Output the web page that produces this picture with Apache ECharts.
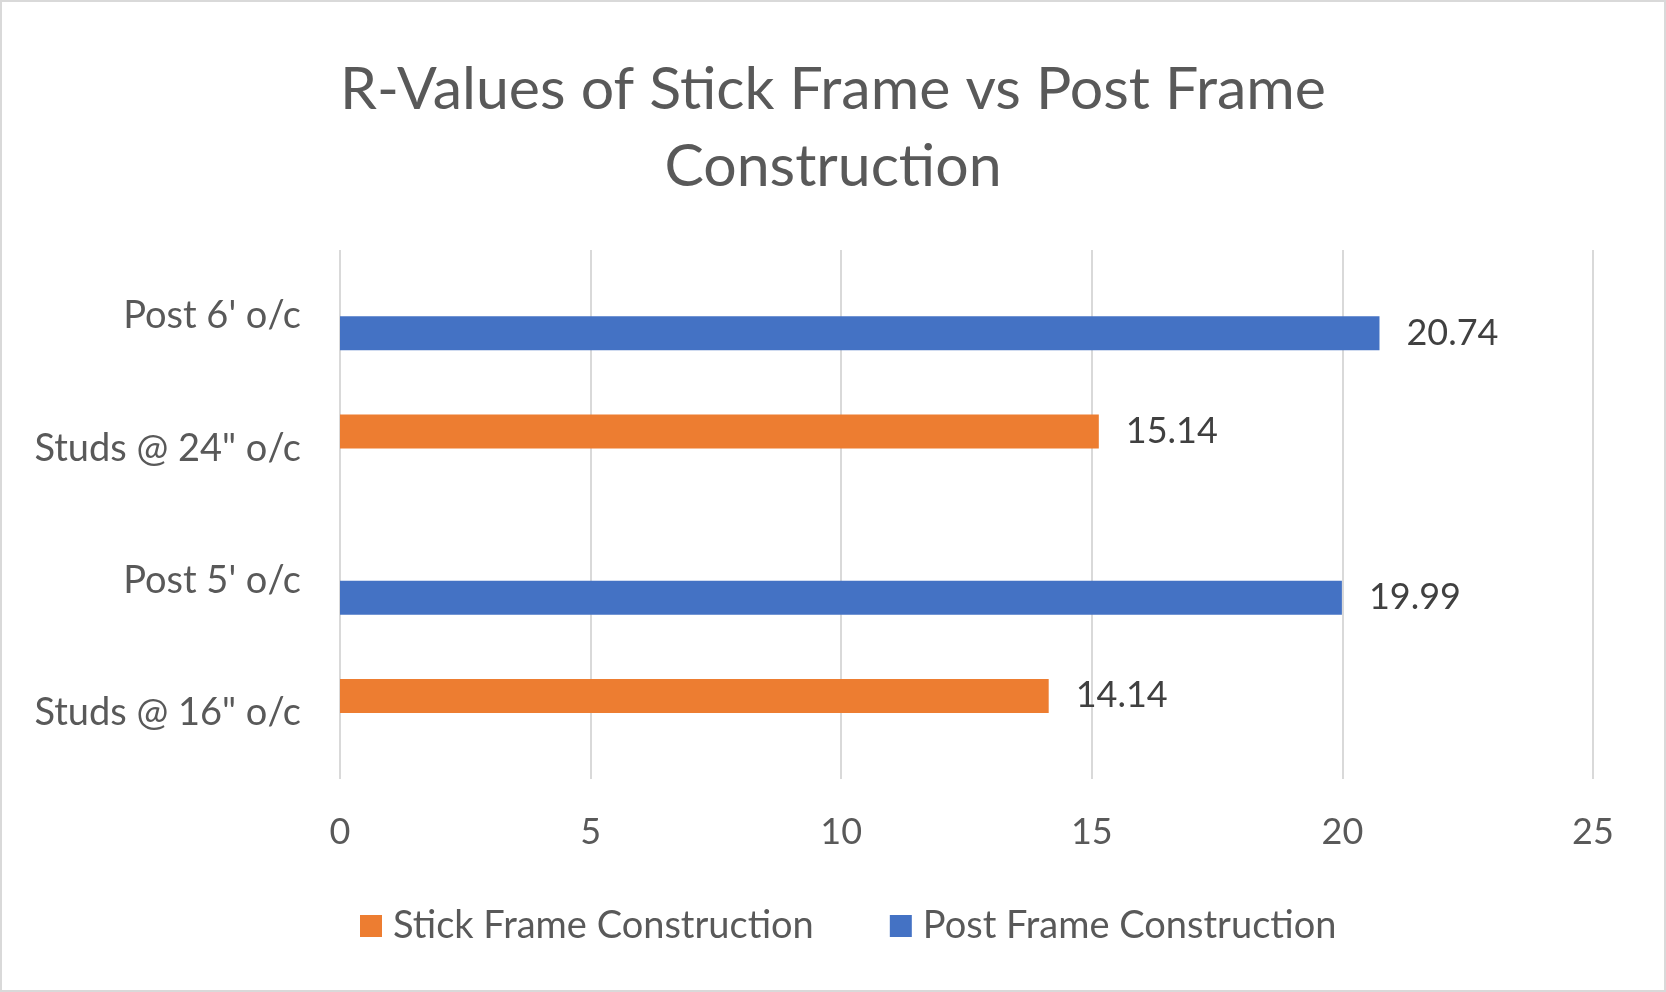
<!DOCTYPE html>
<html>
<head>
<meta charset="utf-8">
<script src="https://cdn.jsdelivr.net/npm/echarts@6/dist/echarts.min.js"></script>
<style>
  html, body { margin: 0; padding: 0; background: #fff; }
  #container { width: 1666px; height: 992px; }
</style>
</head>
<body>
<div id="container"></div>
<script>
var categories = ['Studs @ 16" o/c', "Post 5' o/c", 'Studs @ 24" o/c', "Post 6' o/c"];
var stickValues = [14.14, null, 15.14, null];
var postValues = [null, 19.99, null, 20.74];
var xTicks = { min: 0, max: 25, interval: 5 };

var dom = document.getElementById('container');
var myChart = echarts.init(dom, null, { renderer: 'canvas' });

var fontFamily = 'Lato';
var textGray = '#595959';

var option = {
  backgroundColor: '#ffffff',
  animation: false,
  textStyle: { fontFamily: fontFamily },
  title: {
    text: 'R-Values of Stick Frame vs Post Frame\nConstruction',
    left: 'center',
    top: 46,
    textStyle: {
      fontFamily: fontFamily,
      fontSize: 59,
      fontWeight: 'normal',
      color: textGray,
      lineHeight: 77
    }
  },
  legend: {
    data: ['Stick Frame Construction', 'Post Frame Construction'],
    left: 355,
    top: 902,
    icon: 'rect',
    itemWidth: 22,
    itemHeight: 22,
    itemGap: 76,
    textStyle: {
      fontFamily: fontFamily,
      fontSize: 38,
      color: textGray,
      padding: [0, 0, 0, 6]
    }
  },
  graphic: [{
    type: 'rect',
    shape: { x: 1, y: 1, width: 1664, height: 990 },
    style: { fill: 'none', stroke: '#d9d9d9', lineWidth: 2 },
    silent: true
  }],
  grid: {
    left: 340,
    right: 73,
    top: 250,
    bottom: 213
  },
  xAxis: {
    type: 'value',
    min: xTicks.min,
    max: xTicks.max,
    interval: xTicks.interval,
    axisLine: { show: false },
    axisTick: { show: false },
    axisLabel: {
      fontFamily: fontFamily,
      fontSize: 36,
      color: textGray,
      margin: 35
    },
    splitLine: { show: true, lineStyle: { color: '#d9d9d9', width: 2 } }
  },
  yAxis: {
    type: 'category',
    data: categories,
    axisLine: { show: false },
    axisTick: { show: false },
    axisLabel: {
      fontFamily: fontFamily,
      fontSize: 38,
      color: textGray,
      margin: 39
    },
    splitLine: { show: false }
  },
  series: [{
    name: 'Stick Frame Construction',
    type: 'bar',
    data: stickValues,
    barWidth: 34,
    barGap: '0%',
    itemStyle: { color: '#ed7d31' },
    label: {
      show: true,
      position: 'right',
      distance: 27,
      fontFamily: fontFamily,
      fontSize: 36,
      color: '#404040'
    }
  }, {
    name: 'Post Frame Construction',
    type: 'bar',
    data: postValues,
    barWidth: 34,
    barGap: '0%',
    itemStyle: { color: '#4472c4' },
    label: {
      show: true,
      position: 'right',
      distance: 27,
      fontFamily: fontFamily,
      fontSize: 36,
      color: '#404040'
    }
  }]
};

if (option && typeof option === 'object') {
  myChart.setOption(option);
}
window.addEventListener('resize', myChart.resize);
</script>
</body>
</html>
